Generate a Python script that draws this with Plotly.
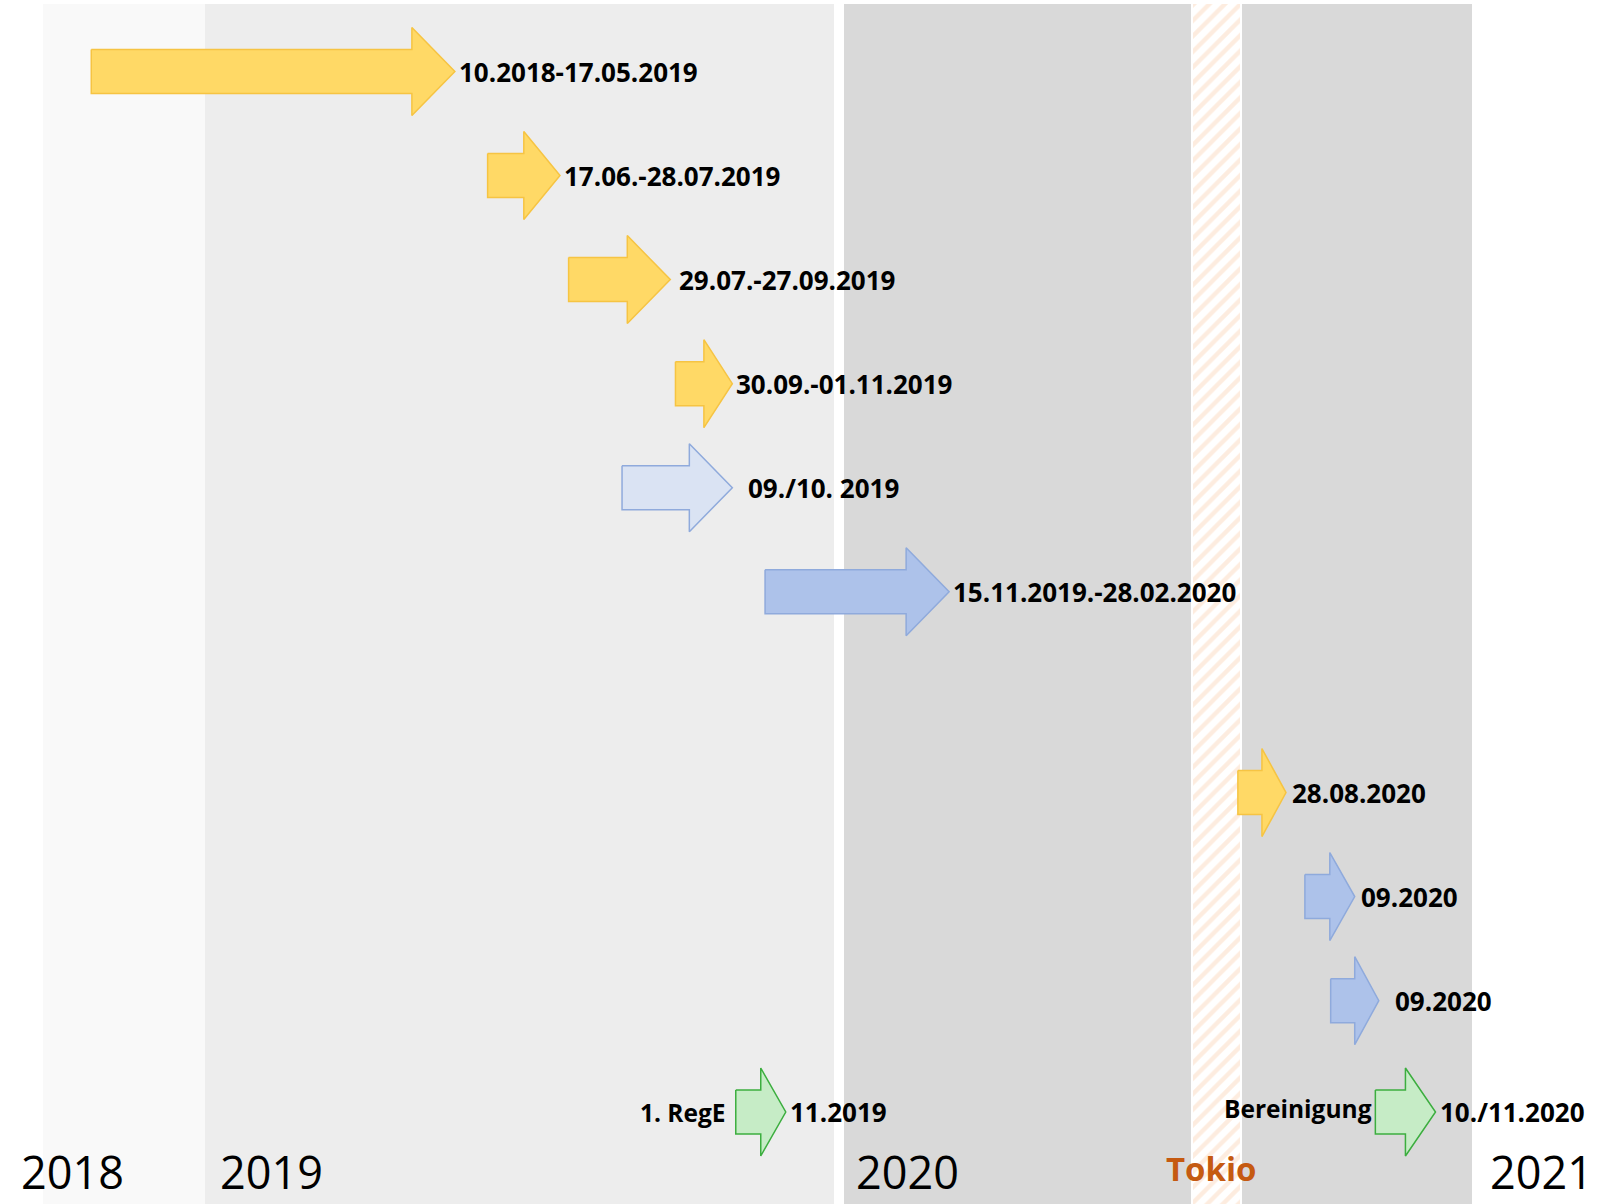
import plotly.graph_objects as go
import pandas as pd

# ---------------- data ----------------
labels = ["10.2018-17.05.2019", "17.06.-28.07.2019", "29.07.-27.09.2019", "30.09.-01.11.2019",
          "09./10. 2019", "15.11.2019.-28.02.2020", "28.08.2020", "09.2020", "09.2020",
          "11.2019", "10./11.2020"]
left_labels = ["", "", "", "", "", "", "", "", "", "1. RegE", "Bereinigung"]
starts = ["2018-10-27", "2019-06-14", "2019-07-31", "2019-10-01", "2019-08-31", "2019-11-22",
          "2020-08-23", "2020-10-01", "2020-10-16", "2019-11-05", "2020-11-11"]
ends = ["2019-05-26", "2019-07-26", "2019-09-28", "2019-11-03", "2019-11-03", "2020-03-08",
        "2020-09-20", "2020-10-30", "2020-11-13", "2019-12-04", "2020-12-16"]
rows = [0, 1, 2, 3, 4, 5, 6.93, 7.93, 8.93, 10, 10]
kinds = ["gelb", "gelb", "gelb", "gelb", "hellblau", "blau", "gelb", "blau", "blau", "grün", "grün"]
years = ["2018", "2019", "2020", "2021"]

# ---------------- styles ----------------
W, H = 1607, 1204
PX_PER_YEAR = 629.0
X0 = 2019 - 205 / PX_PER_YEAR
X1 = X0 + W / PX_PER_YEAR
ROW_PX = 104.05
Y_TOP = -71.5 / ROW_PX
Y_BOT = Y_TOP + H / ROW_PX

styles = {
    "gelb": dict(fill="#ffd966", line="#f6c443"),
    "hellblau": dict(fill="#dae3f3", line="#8faadc"),
    "blau": dict(fill="#adc2ea", line="#8faadc"),
    "grün": dict(fill="#c6ecc6", line="#3cae3f"),
}
SHAFT = 44 / ROW_PX
HEAD = 88 / ROW_PX
HEAD_LEN = 43 / PX_PER_YEAR
LABEL_SHIFT = 2
EXTRA_SHIFT = {2: 5, 4: 12, 6: 2, 7: 2, 8: 12}
LEFT_SHIFT = {9: -8, 10: -1}
LEFT_YSHIFT = {9: 0, 10: 4}

def frac_year(s):
    d = pd.Timestamp(s)
    days = 366 if d.is_leap_year else 365
    return d.year + (d.dayofyear - 1) / days

def px2x(px):
    return X0 + px / PX_PER_YEAR

fig = go.Figure()

# background bands (x in fractional years)
bands = [
    (px2x(43), px2x(205), "#f9f9f9"),
    (px2x(205), px2x(834), "#ededed"),
    (px2x(844), px2x(1191), "#d9d9d9"),
    (px2x(1242), px2x(1472), "#d9d9d9"),
]
band_top = Y_TOP + 4 / ROW_PX
for a, b, c in bands:
    fig.add_shape(type="rect", x0=a, x1=b, y0=band_top, y1=Y_BOT + 1, fillcolor=c,
                  line_width=0, layer="below")

# Tokio hatched stripe
tx0, tx1 = px2x(1193), px2x(1240)
fig.add_trace(go.Scatter(
    x=[tx0, tx1, tx1, tx0, tx0], y=[band_top, band_top, Y_BOT + 1, Y_BOT + 1, band_top],
    mode="lines", fill="toself", line=dict(width=0), fillcolor="white",
    fillpattern=dict(shape="/", fgcolor="#fcdac0", bgcolor="white", size=11, solidity=0.4),
    hoverinfo="skip", showlegend=False))

# arrows
for i, (lab, llab, s, e, r, k) in enumerate(zip(labels, left_labels, starts, ends, rows, kinds)):
    xs, xe = frac_year(s), frac_year(e)
    hl = min(HEAD_LEN, 0.5 * (xe - xs))
    xb = xe - hl
    px = [xs, xb, xb, xe, xb, xb, xs, xs]
    py = [r - SHAFT / 2, r - SHAFT / 2, r - HEAD / 2, r, r + HEAD / 2, r + SHAFT / 2, r + SHAFT / 2, r - SHAFT / 2]
    st = styles[k]
    fig.add_trace(go.Scatter(x=px, y=py, mode="lines", fill="toself", fillcolor=st["fill"],
                             line=dict(color=st["line"], width=1.5), hoverinfo="skip",
                             showlegend=False))
    fig.add_annotation(x=xe, y=r, text=lab, showarrow=False, xanchor="left", yanchor="middle",
                       xshift=LABEL_SHIFT + EXTRA_SHIFT.get(i, 0),
                       font=dict(family="Open Sans", size=26, color="black", weight="bold"))
    if llab:
        fig.add_annotation(x=xs, y=r, text=llab, showarrow=False, xanchor="right", yanchor="middle",
                           xshift=LEFT_SHIFT.get(i, -3), yshift=LEFT_YSHIFT.get(i, 0),
                           font=dict(family="Open Sans", size=24.5, color="black", weight="bold"))

# year labels
year_px = [19, 218, 854, 1488]
for yl, xp in zip(years, year_px):
    fig.add_annotation(x=xp / W, y=1 - 1171 / H, xref="paper", yref="paper", text=yl,
                       showarrow=False, xanchor="left", yanchor="middle",
                       font=dict(family="Open Sans", size=45, color="black"))
fig.add_annotation(x=1211 / W, y=1 - 1168 / H, xref="paper", yref="paper", text="Tokio",
                   showarrow=False, xanchor="center", yanchor="middle",
                   font=dict(family="Open Sans", size=33, color="#c55a11", weight="bold"))

fig.update_layout(
    width=W, height=H, margin=dict(l=0, r=0, t=0, b=0),
    plot_bgcolor="white", paper_bgcolor="white", showlegend=False,
    xaxis=dict(range=[X0, X1], visible=False, fixedrange=True),
    yaxis=dict(range=[Y_BOT, Y_TOP], visible=False, fixedrange=True),
)

fig.write_html("out.html", config={"displayModeBar": False},
               post_script="document.body.style.margin='0';document.body.style.overflow='hidden';")
